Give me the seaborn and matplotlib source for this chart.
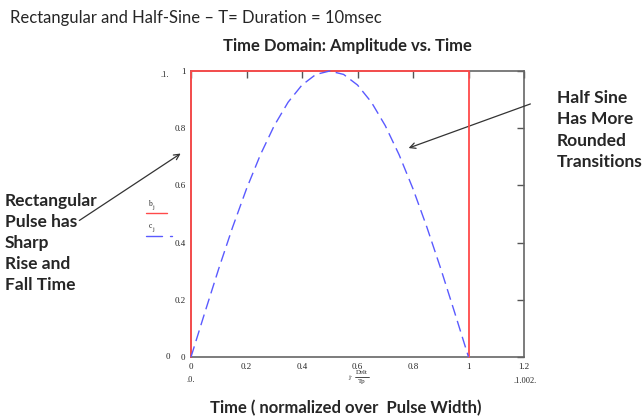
import numpy as np
import pandas as pd
import matplotlib
matplotlib.use('Agg')
import matplotlib.pyplot as plt
import seaborn as sns

# data
rect_t = [0.0, 0.0, 1.0, 1.0]
rect_amp = [0.0, 1.0, 1.0, 0.0]

sine_t = [0.0, 0.05, 0.10, 0.15, 0.20, 0.25, 0.30, 0.35, 0.40, 0.45, 0.50,
          0.55, 0.60, 0.65, 0.70, 0.75, 0.80, 0.85, 0.90, 0.95, 1.0]
sine_amp = [0.0, 0.156, 0.309, 0.454, 0.588, 0.707, 0.809, 0.891, 0.951, 0.988, 1.0,
            0.988, 0.951, 0.891, 0.809, 0.707, 0.588, 0.454, 0.309, 0.156, 0.0]

x_ticks = [0, 0.2, 0.4, 0.6, 0.8, 1, 1.2]
x_labels = ['0', '0.2', '0.4', '0.6', '0.8', '1', '1.2']
y_ticks = [0, 0.2, 0.4, 0.6, 0.8, 1]
y_labels = ['0', '0.2', '0.4', '0.6', '0.8', '1']

sns.set_style('white')
plt.rcParams['font.family'] = ['Lato', 'DejaVu Sans']

rect = pd.DataFrame({'t': rect_t, 'amp': rect_amp})
sine = pd.DataFrame({'t': sine_t, 'amp': sine_amp})

fig = plt.figure(figsize=(6.43, 4.18), dpi=100)
ax = fig.add_axes([191/643, 61/418, 333/643, 286/418])

sns.lineplot(data=rect, x='t', y='amp', ax=ax, color='#ff4a4a', lw=1.3,
             estimator=None, sort=False)
sns.lineplot(data=sine, x='t', y='amp', ax=ax, color='#5a5aff', lw=1.0,
             estimator=None, sort=False, dashes=False)
ax.lines[-1].set_dashes([8, 4])
for ln in ax.lines:
    ln.set_clip_on(False)
    ln.set_zorder(5)

ax.set_xlim(0, 1.2)
ax.set_ylim(0, 1)
ax.set_xticks(x_ticks)
ax.set_xticklabels(x_labels)
ax.set_yticks(y_ticks)
ax.set_yticklabels(y_labels)
ax.set_xlabel('')
ax.set_ylabel('')
ax.tick_params(direction='in', length=5, width=1, color='#555555',
               top=True, right=True, labelsize=6.5, pad=4)
for lab in ax.get_xticklabels() + ax.get_yticklabels():
    lab.set_family('Liberation Serif')
for s in ax.spines.values():
    s.set_color('#666666')
    s.set_linewidth(1.2)
    s.set_zorder(2)

serif = 'Liberation Serif'
# Mathcad style range markers and axis expressions
fig.text(165/643, 1 - 75/418, '.1.', fontsize=6, family=serif, ha='center', va='center')
fig.text(168/643, 1 - 357/418, '0', fontsize=6.5, family=serif, ha='center', va='center')
fig.text(191/643, 1 - 380/418, '.0.', fontsize=6, family=serif, ha='center', va='center')
fig.text(525/643, 1 - 381/418, '.1.002.', fontsize=6, family=serif, ha='center', va='center')
fig.text(362/643, 1 - 372/418, 'Delt', fontsize=5, family=serif, ha='center', va='center')
fig.text(362/643, 1 - 382/418, 'Tp', fontsize=5, family=serif, ha='center', va='center')
fig.text(350/643, 1 - 378/418, 'j\u00b7', fontsize=5, family=serif, ha='center', va='center')
fig.lines.append(plt.Line2D([355/643, 369/643], [1 - 377/418, 1 - 377/418],
                            transform=fig.transFigure, color='black', lw=0.5))

# legend-like labels at left
fig.text(150/643, 1 - 204/418, 'b', fontsize=5.5, family=serif, ha='center', va='center')
fig.text(153/643, 1 - 208/418, 'j', fontsize=4.5, family=serif, ha='center', va='center')
fig.text(150/643, 1 - 226/418, 'c', fontsize=5.5, family=serif, ha='center', va='center')
fig.text(153/643, 1 - 230/418, 'j', fontsize=4.5, family=serif, ha='center', va='center')
fig.lines.append(plt.Line2D([146/643, 167/643], [1 - 213/418, 1 - 213/418],
                            transform=fig.transFigure, color='#ff4a4a', lw=1))
fig.lines.append(plt.Line2D([146/643, 162/643], [1 - 236/418, 1 - 236/418],
                            transform=fig.transFigure, color='#5a5aff', lw=1))
fig.lines.append(plt.Line2D([170/643, 172/643], [1 - 236/418, 1 - 236/418],
                            transform=fig.transFigure, color='#5a5aff', lw=1))

# titles
fig.text(10/643, 1 - 18/418, 'Rectangular and Half-Sine \u2013 T= Duration = 10msec',
         fontsize=12, ha='left', va='center')
fig.text(347/643, 1 - 46/418, 'Time Domain: Amplitude vs. Time',
         fontsize=12, fontweight='bold', ha='center', va='center')
fig.text(346/643, 1 - 408/418, 'Time ( normalized over  Pulse Width)',
         fontsize=12, fontweight='bold', ha='center', va='center')

# annotations
fig.text(5/643, 1 - 243/418, 'Rectangular\nPulse has\nSharp\nRise and\nFall Time',
         fontsize=12.5, fontweight='bold', ha='left', va='center', linespacing=1.4)
fig.text(557/643, 1 - 130/418, 'Half Sine\nHas More\nRounded\nTransitions',
         fontsize=12.5, fontweight='bold', ha='left', va='center', linespacing=1.4)

ax.annotate('', xy=(183/643, 1 - 152/418), xycoords='figure fraction',
            xytext=(77/643, 1 - 222/418), textcoords='figure fraction',
            arrowprops=dict(arrowstyle='->', color='#333333', lw=0.9))
ax.annotate('', xy=(406/643, 1 - 149/418), xycoords='figure fraction',
            xytext=(533/643, 1 - 103/418), textcoords='figure fraction',
            arrowprops=dict(arrowstyle='->', color='#333333', lw=0.9))

fig.savefig('out.png', dpi=100)
